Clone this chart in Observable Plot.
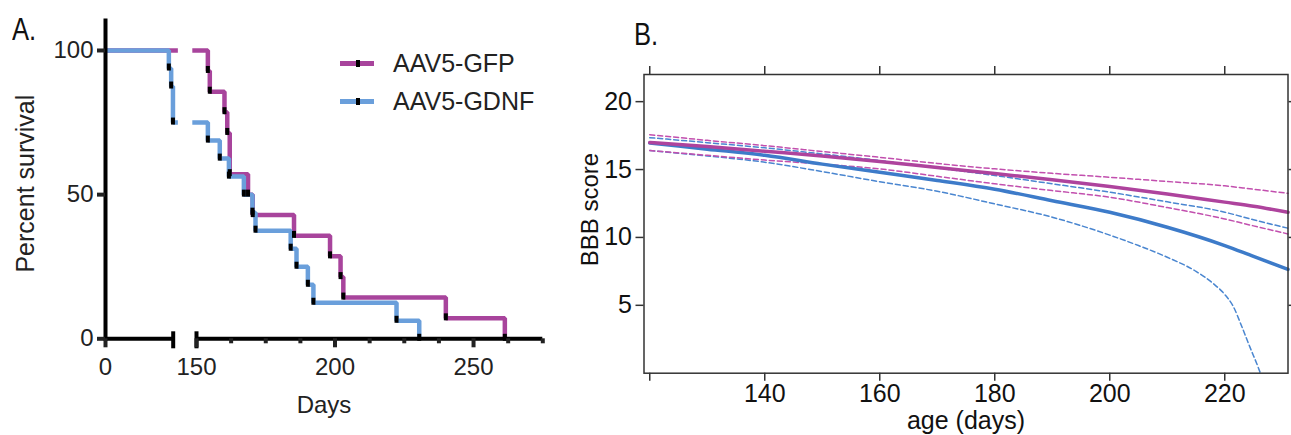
<!DOCTYPE html>
<html><head><meta charset="utf-8">
<script src="https://cdn.jsdelivr.net/npm/d3@7"></script>
<script src="https://cdn.jsdelivr.net/npm/@observablehq/plot@0.6"></script>
<style>
body{margin:0;background:#fff;}
#wrap{position:relative;width:1291px;height:435px;overflow:hidden;background:#fff;font-family:"Liberation Sans",Arial,sans-serif;}
.panel{position:absolute;top:0;}
#panelA{left:0;} #panelB{left:570px;}
.tag{position:absolute;font-family:"Liberation Sans",Arial,sans-serif;font-size:32px;color:#111;line-height:1;transform:scaleX(0.8);transform-origin:left top;}
.legend{position:absolute;left:340px;top:45px;font-size:25px;color:#222;font-family:"Liberation Sans",Arial,sans-serif;}
.legend .row{display:flex;align-items:center;height:37.7px;}
.sw{position:relative;width:34px;height:5px;margin-right:19px;}
.sw i{position:absolute;left:15.5px;top:-1px;width:4px;height:7px;background:#000;}
</style></head>
<body><div id="wrap">
 <div id="panelA" class="panel"></div>
 <div id="panelB" class="panel"></div>
 <div class="tag" style="left:12px;top:13px">A.</div>
 <div class="tag" style="left:634px;top:18px">B.</div>
 <div class="legend" id="legend"></div>
</div>
<script>
// ---------- Panel A data (Kaplan-Meier) ----------
const seriesNames = ["AAV5-GFP", "AAV5-GDNF"];
const gfpDays = [0, 154.1, 154.8, 160.1, 161.1, 162.0, 168.6, 170.3, 185.2, 198.2, 202.0, 203.0, 240.0, 261.3];
const gfpPct  = [100, 92.9, 85.7, 78.6, 71.4, 57.1, 50, 42.9, 35.7, 28.6, 21.4, 14.3, 7.1, 0];
const gdnfDays = [0, 131, 135.8, 139.5, 154.1, 158.4, 161.7, 167.1, 170.2, 171.3, 184.0, 186.1, 190.2, 192.2, 222.2, 230.4];
const gdnfPct  = [100, 93.75, 87.5, 75, 68.75, 62.5, 56.25, 50, 43.75, 37.5, 31.25, 25, 18.75, 12.5, 6.25, 0];
const yTicksA = [0, 50, 100];
const xMajorTicksA = [0, 150, 200, 250];
const xMinorTicksA = [162.5, 175, 187.5, 212.5, 225, 237.5, 262.5, 275];

// ---------- Panel B data (BBB score fits) ----------
const ageDays = [120, 130, 140, 150, 160, 170, 180, 190, 200, 210, 220, 225, 231];
const gfpFit   = [17.0, 16.7, 16.35, 16.0, 15.6, 15.15, 14.7, 14.25, 13.75, 13.2, 12.6, 12.3, 11.85];
const gfpUpper = [17.57, 17.15, 16.76, 16.33, 15.9, 15.45, 15.05, 14.72, 14.43, 14.12, 13.8, 13.55, 13.25];
const gfpLower = [16.4, 16.05, 15.7, 15.4, 15.05, 14.5, 13.95, 13.45, 12.96, 12.2, 11.36, 10.85, 10.26];
const gdnfFit   = [16.95, 16.5, 16.05, 15.4, 14.8, 14.2, 13.55, 12.7, 11.85, 10.75, 9.4, 8.6, 7.65];
const gdnfUpper = [17.35, 16.98, 16.6, 16.15, 15.66, 15.12, 14.56, 13.95, 13.33, 12.62, 11.86, 11.3, 10.68];
const gdnfLowerDays = [120, 130, 140, 150, 160, 170, 180, 190, 200, 205, 210, 215, 218, 220, 221.5, 223, 224.4, 225.8, 226.2];
const gdnfLower     = [16.4, 16.0, 15.54, 14.85, 14.1, 13.4, 12.47, 11.49, 10.17, 9.4, 8.54, 7.5, 6.6, 5.8, 4.9, 3.4, 1.9, 0.45, 0];
const xTicksB = [120, 140, 160, 180, 200, 220];
const yTicksB = [5, 10, 15, 20];

// ---------- colours / fonts ----------
const gfpColorA = "#a8449c", gdnfColorA = "#6a9fdb";
const gfpColorB = "#ae439d", gdnfColorB = "#3d7bc9";
const gfpDashB = "#c24fae", gdnfDashB = "#4a86d0";
const sansFont = "'Liberation Sans', Arial, sans-serif";

// ---------- Panel A ----------
const breakStart = 140, breakEnd = 150, gapStart = 142, gapEnd = 148.2;
function kmSegments(days, pct, name) {
  const rows = [];
  for (let i = 0; i < days.length; i++) if (days[i] < breakStart) rows.push({day: days[i], pct: pct[i], seg: name + "-1"});
  const level = rows[rows.length - 1].pct;
  rows.push({day: gapStart, pct: level, seg: name + "-1"});
  rows.push({day: gapEnd, pct: level, seg: name + "-2"});
  for (let i = 0; i < days.length; i++) if (days[i] > breakEnd) rows.push({day: days[i], pct: pct[i], seg: name + "-2"});
  return rows;
}
function kmEvents(days, pct) { return days.slice(1).map((d, i) => ({day: d, pct: pct[i + 1]})); }

const gfpRows = kmSegments(gfpDays, gfpPct, seriesNames[0]);
const gdnfRows = kmSegments(gdnfDays, gdnfPct, seriesNames[1]);

const plotA = Plot.plot({
  width: 560, height: 435,
  marginLeft: 105, marginRight: 18, marginTop: 20, marginBottom: 96.7,
  x: {type: "linear", domain: [0, breakStart, breakEnd, 275], range: [105, 172.7, 196, 542.3]},
  y: {domain: [0, 110.4]},
  style: {fontFamily: sansFont, fontSize: "24px", color: "#222", background: "transparent", overflow: "visible"},
  marks: [
    Plot.line(gfpRows, {x: "day", y: "pct", z: "seg", stroke: gfpColorA, strokeWidth: 4.5, curve: "step-after", strokeLinejoin: "miter", strokeLinecap: "butt"}),
    Plot.line(gdnfRows, {x: "day", y: "pct", z: "seg", stroke: gdnfColorA, strokeWidth: 4.5, curve: "step-after", strokeLinejoin: "miter", strokeLinecap: "butt"}),
    Plot.ruleX(kmEvents(gfpDays, gfpPct), {x: "day", y1: "pct", y2: "pct", insetTop: -4.5, insetBottom: -2.5, stroke: "#000", strokeWidth: 4}),
    Plot.ruleX(kmEvents(gdnfDays, gdnfPct), {x: "day", y1: "pct", y2: "pct", insetTop: -4.5, insetBottom: -2.5, stroke: "#000", strokeWidth: 4}),
    Plot.frame({anchor: "left", stroke: "#000", strokeWidth: 4}),
    Plot.ruleY([[0, breakStart], [breakEnd, 275]], {x1: d => d[0], x2: d => d[1], y: 0, stroke: "#000", strokeWidth: 4}),
    Plot.ruleX([breakStart, breakEnd], {x: d => d, y1: 0, y2: 0, insetTop: -7, insetBottom: -10, stroke: "#000", strokeWidth: 4}),
    Plot.axisX({ticks: xMajorTicksA, tickSize: 9, strokeWidth: 4, tickPadding: 10, fontSize: 24, label: null}),
    Plot.axisX({ticks: xMinorTicksA, tickSize: 5, strokeWidth: 4, tickFormat: () => "", label: null}),
    Plot.axisY({ticks: yTicksA, tickSize: 8, strokeWidth: 4, tickPadding: 4, fontSize: 24, label: null}),
    Plot.text(["Days"], {frameAnchor: "bottom", dy: 74.5, lineAnchor: "bottom", textAnchor: "middle", fontSize: 24, fill: "#222"}),
    Plot.text(["Percent survival"], {frameAnchor: "left", dx: -80, dy: 4, rotate: -90, textAnchor: "middle", fontSize: 25, fill: "#222"})
  ]
});
document.getElementById("panelA").appendChild(plotA);

// legend
const legend = document.getElementById("legend");
[[seriesNames[0], gfpColorA], [seriesNames[1], gdnfColorA]].forEach(([name, color]) => {
  const row = document.createElement("div"); row.className = "row";
  const sw = document.createElement("div"); sw.className = "sw"; sw.style.background = color;
  sw.appendChild(document.createElement("i"));
  const t = document.createElement("span"); t.textContent = name;
  row.appendChild(sw); row.appendChild(t); legend.appendChild(row);
});

// ---------- Panel B ----------
const toRows = (xs, ys) => xs.map((x, i) => ({age: x, score: ys[i]}));
const plotB = Plot.plot({
  width: 721, height: 435,
  marginLeft: 73.5, marginRight: 3.5, marginTop: 74, marginBottom: 62.3,
  x: {domain: [119, 231]},
  y: {domain: [0, 22]},
  style: {fontFamily: sansFont, fontSize: "25px", color: "#111", background: "transparent", overflow: "visible"},
  marks: [
    Plot.line(toRows(gdnfLowerDays, gdnfLower), {x: "age", y: "score", stroke: gdnfDashB, strokeWidth: 1.5, strokeDasharray: "5,3", curve: "monotone-x"}),
    Plot.line(toRows(ageDays, gdnfUpper), {x: "age", y: "score", stroke: gdnfDashB, strokeWidth: 1.5, strokeDasharray: "5,3", curve: "monotone-x"}),
    Plot.line(toRows(ageDays, gfpUpper), {x: "age", y: "score", stroke: gfpDashB, strokeWidth: 1.5, strokeDasharray: "5,3", curve: "monotone-x"}),
    Plot.line(toRows(ageDays, gfpLower), {x: "age", y: "score", stroke: gfpDashB, strokeWidth: 1.5, strokeDasharray: "5,3", curve: "monotone-x"}),
    Plot.line(toRows(ageDays, gdnfFit), {x: "age", y: "score", stroke: gdnfColorB, strokeWidth: 3.5, curve: "monotone-x"}),
    Plot.line(toRows(ageDays, gfpFit), {x: "age", y: "score", stroke: gfpColorB, strokeWidth: 3.5, curve: "monotone-x"}),
    Plot.frame({stroke: "#333", strokeWidth: 1.5}),
    Plot.axisX({ticks: xTicksB, tickSize: 8, tickPadding: 3, strokeWidth: 1.5, stroke: "#333", tickFormat: d => d === 120 ? "" : String(d), label: null}),
    Plot.axisX({anchor: "top", ticks: xTicksB, tickSize: 9, strokeWidth: 1.5, stroke: "#333", tickFormat: () => "", label: null}),
    Plot.axisY({ticks: yTicksB, tickSize: 8, tickPadding: 4, strokeWidth: 1.5, stroke: "#333", label: null}),
    Plot.axisY({anchor: "right", ticks: yTicksB, tickSize: 8, strokeWidth: 1.5, stroke: "#333", tickFormat: () => "", label: null}),
    Plot.text(["age (days)"], {frameAnchor: "bottom", dy: 55.5, lineAnchor: "bottom", textAnchor: "middle", fontSize: 25, fill: "#111"}),
    Plot.text(["BBB score"], {frameAnchor: "left", dx: -54, dy: -14.3, rotate: -90, textAnchor: "middle", fontSize: 24, fill: "#111"})
  ]
});
document.getElementById("panelB").appendChild(plotB);
</script>
</body></html>
